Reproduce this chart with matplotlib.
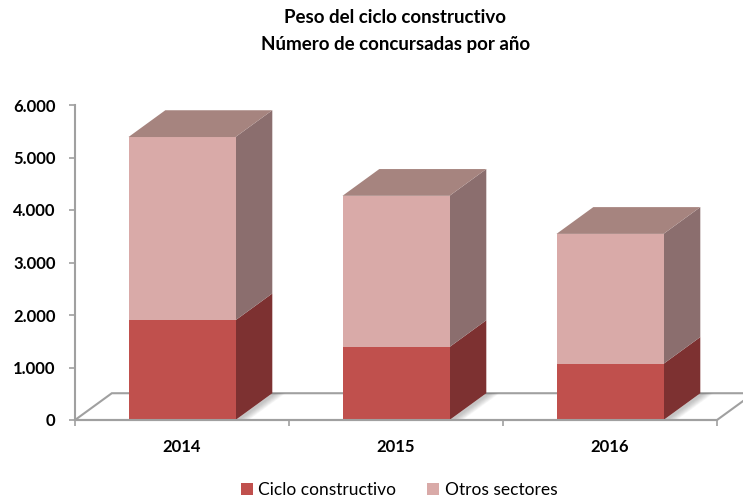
import numpy as np
import matplotlib
matplotlib.use("Agg")
import matplotlib.pyplot as plt
from matplotlib.patches import Polygon, Patch

plt.rcParams['font.family'] = ['Lato', 'DejaVu Sans']

# Data: number of insolvent firms per year
years = ['2014', '2015', '2016']
ciclo = [1900, 1390, 1070]
otros = [3490, 2880, 2475]

# colours for the faces of each series (front, side, top)
ciclo_cols = ('#C0504D', '#7D3131', '#9B4240')
otros_cols = ('#D9AAA8', '#8B6E6E', '#A6847F')

fig = plt.figure(figsize=(7.43, 4.99), dpi=100)
ax = fig.add_axes([75 / 743, 79 / 499, 642 / 743, 315 / 499])
ax.set_xlim(0, 3)
ax.set_ylim(0, 6000)

dx, dy = 0.172, 510  # depth of the fake 3d projection
w = 0.5
axis_col = '#A0A0A0'

# floor of the chart
floor = Polygon([(0, 0), (dx, dy), (3 + dx, dy), (3, 0)], closed=True,
                facecolor='white', edgecolor=axis_col, lw=1.5, clip_on=False, zorder=1)
ax.add_patch(floor)


def box(x0, b, t, cols, top=False):
    x1 = x0 + w
    front = Polygon([(x0, b), (x1, b), (x1, t), (x0, t)], closed=True,
                    facecolor=cols[0], edgecolor='none', clip_on=False, zorder=3)
    side = Polygon([(x1, b), (x1 + dx, b + dy), (x1 + dx, t + dy), (x1, t)], closed=True,
                   facecolor=cols[1], edgecolor='none', clip_on=False, zorder=3)
    ax.add_patch(side)
    ax.add_patch(front)
    if top:
        lid = Polygon([(x0, t), (x0 + dx, t + dy), (x1 + dx, t + dy), (x1, t)], closed=True,
                      facecolor=cols[2], edgecolor='none', clip_on=False, zorder=3)
        ax.add_patch(lid)


for i in range(len(years)):
    x0 = i + 0.5 - w / 2
    # soft shadow on the floor behind the bar
    for k in range(8):
        s = 0.02 + k * 0.006
        sh = Polygon([(x0 + w, 0), (x0 + w + s, 0), (x0 + w + dx + s, dy),
                      (x0 + w + dx, dy)], closed=True, facecolor='#606060',
                     edgecolor='none', alpha=0.05, clip_on=False, zorder=2)
        ax.add_patch(sh)
    box(x0, 0, ciclo[i], ciclo_cols)
    box(x0, ciclo[i], ciclo[i] + otros[i], otros_cols, top=True)

# axes styling
for s in ['top', 'right', 'bottom']:
    ax.spines[s].set_visible(False)
ax.spines['left'].set_color(axis_col)
ax.spines['left'].set_linewidth(1.5)
ax.plot([0, 3], [0, 0], color=axis_col, lw=1.5, clip_on=False, zorder=4)

yt = np.arange(0, 6001, 1000)
ax.set_yticks(yt)
ax.set_yticklabels(['0' if v == 0 else '{:,}'.format(v).replace(',', '.') for v in yt],
                   fontsize=12, fontweight='bold')
ax.tick_params(axis='y', length=4, width=1.2, color=axis_col, pad=10)

ax.set_xticks([0.5, 1.5, 2.5])
ax.set_xticklabels(years, fontsize=12, fontweight='bold')
ax.set_xticks([0, 1, 2, 3], minor=True)
ax.tick_params(axis='x', which='major', length=0, pad=14)
ax.tick_params(axis='x', which='minor', length=4, width=1.2, color=axis_col)

fig.text(0.532, 1 - 9 / 499, 'Peso del ciclo constructivo\nNúmero de concursadas por año',
         ha='center', va='top', fontsize=13.5, fontweight='bold', linespacing=1.7)

handles = [Patch(facecolor=ciclo_cols[0]), Patch(facecolor=otros_cols[0])]
fig.legend(handles, ['Ciclo constructivo', 'Otros sectores'], loc='center',
           bbox_to_anchor=(399 / 743, 1 - 490 / 499), ncol=2, frameon=False,
           fontsize=12.5, handlelength=0.7, handleheight=0.7, handletextpad=0.3,
           columnspacing=1.8)

fig.savefig('out.png', dpi=100)
